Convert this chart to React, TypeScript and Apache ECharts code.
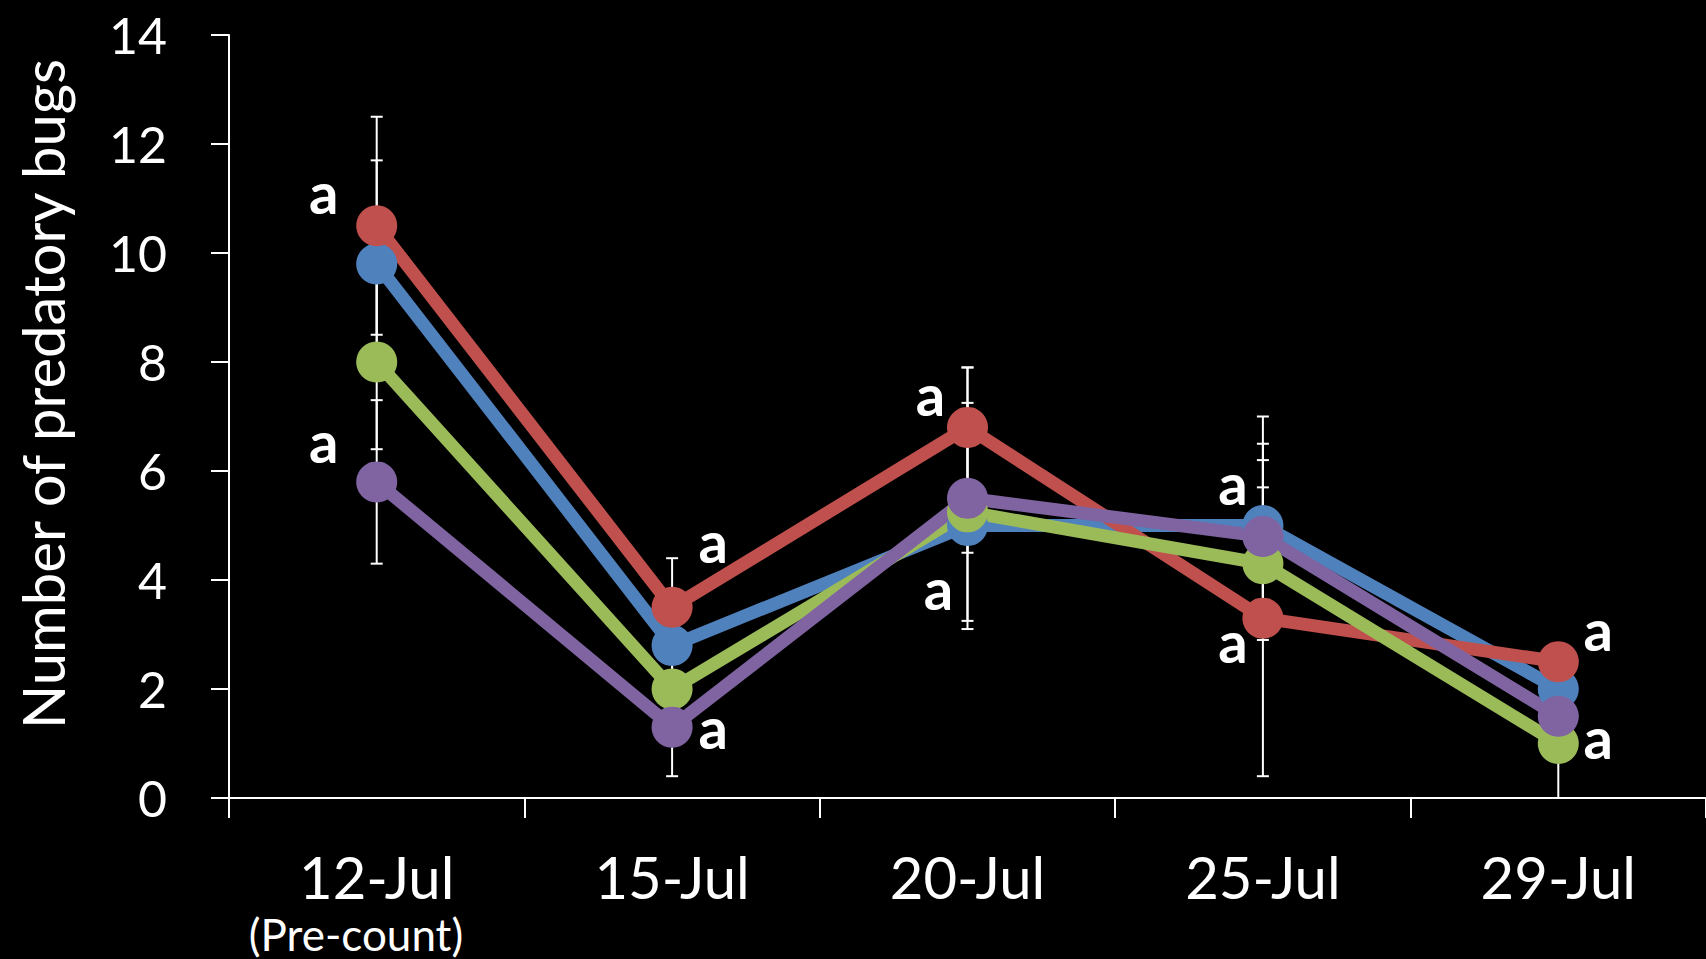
import React, { useEffect, useRef } from "react";
import * as echarts from "echarts";

const categories = ["12-Jul", "15-Jul", "20-Jul", "25-Jul", "29-Jul"];
const yMin = 0;
const yMax = 14;
const yInterval = 2;

const seriesNames = ["Series A", "Series B", "Series C", "Series D"];
const blueValues = [9.8, 2.8, 5.0, 5.0, 2.0];
const redValues = [10.5, 3.5, 6.8, 3.3, 2.5];
const greenValues = [8.0, 2.0, 5.25, 4.3, 1.0];
const purpleValues = [5.8, 1.3, 5.5, 4.8, 1.5];

const blueErrors = [1.9, 0.8, 0.5, 2.0, 0.3];
const redErrors = [2.0, 0.9, 1.1, 2.9, 0.3];
const greenErrors = [1.6, 0.7, 2.0, 1.4, 1.0];
const purpleErrors = [1.5, 0.9, 2.4, 1.7, 0.3];

const letterText = "a";
const letterCats = [0, 0, 1, 1, 2, 2, 3, 3, 4, 4];
const letterValues = [11.06, 6.48, 4.66, 1.23, 7.34, 3.78, 5.71, 2.81, 3.03, 1.05];

const yAxisTitle = "Number of predatory bugs";
const firstCategoryNote = "(Pre-count)";

const FONT = "Lato, 'Open Sans', sans-serif";
const colors = ["#4F81BD", "#C0504D", "#9BBB59", "#8064A2"];
const letterDx = [-53, -53, 41, 41, -37, -29, -30, -30, 40, 40];

export default function App() {
  const ref = useRef<HTMLDivElement>(null);
  useEffect(() => {
    document.body.style.margin = "0";
    document.body.style.background = "#000";
    const chart = echarts.init(ref.current!, null, { renderer: "svg" });
    const valueSets = [blueValues, redValues, greenValues, purpleValues];
    const errorSets = [blueErrors, redErrors, greenErrors, purpleErrors];
    const errData: number[][] = [];
    valueSets.forEach((vals, s) =>
      vals.forEach((v, i) => errData.push([i, v, errorSets[s][i]]))
    );
    const cap = 6;
    const option: any = {
      animation: false,
      backgroundColor: "#000",
      grid: { left: 229, right: 0, top: 35, bottom: 161, containLabel: false },
      xAxis: {
        type: "category",
        data: categories,
        boundaryGap: true,
        axisLine: { show: true, lineStyle: { color: "#fff", width: 2 } },
        axisTick: { show: true, length: 20, interval: 0, lineStyle: { color: "#fff", width: 2 } },
        axisLabel: { color: "#fff", fontSize: 58, fontFamily: FONT, margin: 49, interval: 0 },
        splitLine: { show: false },
      },
      yAxis: {
        type: "value",
        min: yMin,
        max: yMax,
        interval: yInterval,
        axisLine: { show: true, lineStyle: { color: "#fff", width: 2 } },
        axisTick: { show: true, length: 18, lineStyle: { color: "#fff", width: 2 } },
        axisLabel: { color: "#fff", fontSize: 50, fontFamily: FONT, margin: 62 },
        splitLine: { show: false },
      },
      graphic: [
        {
          type: "text",
          x: 42,
          y: 394,
          rotation: Math.PI / 2,
          style: {
            text: yAxisTitle,
            fill: "#fff",
            fontSize: 58,
            fontFamily: FONT,
            align: "center",
            verticalAlign: "middle",
            textAlign: "center",
            textVerticalAlign: "middle",
          },
        },
        {
          type: "text",
          x: 356,
          y: 934,
          style: {
            text: firstCategoryNote,
            fill: "#fff",
            fontSize: 44,
            fontFamily: FONT,
            align: "center",
            verticalAlign: "middle",
            textAlign: "center",
            textVerticalAlign: "middle",
          },
        },
      ],
      series: [
        {
          type: "custom",
          z: 1,
          silent: true,
          data: errData,
          encode: { x: 0, y: 1 },
          renderItem: (params: any, api: any) => {
            const x = api.value(0);
            const v = api.value(1);
            const e = api.value(2);
            const top = api.coord([x, v + e]);
            const bot = api.coord([x, Math.max(0, v - e)]);
            const st = { stroke: "#fff", lineWidth: 2 };
            return {
              type: "group",
              children: [
                { type: "line", shape: { x1: top[0], y1: top[1], x2: bot[0], y2: bot[1] }, style: st },
                { type: "line", shape: { x1: top[0] - cap, y1: top[1], x2: top[0] + cap, y2: top[1] }, style: st },
                { type: "line", shape: { x1: bot[0] - cap, y1: bot[1], x2: bot[0] + cap, y2: bot[1] }, style: st },
              ],
            };
          },
        },
        ...valueSets.map((vals, s) => ({
          name: seriesNames[s],
          type: "line",
          z: 3,
          data: vals,
          symbol: "circle",
          symbolSize: 41,
          showSymbol: true,
          lineStyle: { color: colors[s], width: 13 },
          itemStyle: { color: colors[s] },
        })),
        {
          type: "scatter",
          z: 5,
          silent: true,
          symbolSize: 0,
          itemStyle: { color: "#000", opacity: 1 },
          data: letterCats.map((c, i) => ({
            value: [c, letterValues[i]],
            label: { offset: [letterDx[i], -4] },
          })),
          label: {
            show: true,
            position: "inside",
            formatter: letterText,
            color: "#ffffff",
            opacity: 1,
            textBorderWidth: 0,
            fontSize: 58,
            fontWeight: "bold",
            fontFamily: FONT,
          },
        },
      ],
    };
    chart.setOption(option);
    return () => chart.dispose();
  }, []);
  return <div ref={ref} style={{ width: 1706, height: 959 }} />;
}
